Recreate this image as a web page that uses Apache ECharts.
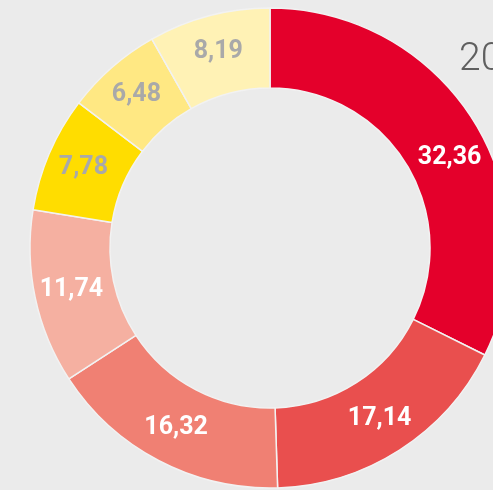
<!DOCTYPE html>
<html lang="en">
<head>
    <meta charset="UTF-8">
    <title>Donut</title>
    <style>
        html, body {
            margin: 0;
            padding: 0;
            background: #ebebeb;
        }
        #chart {
            width: 493px;
            height: 490px;
        }
    </style>
</head>
<body>
<div id="chart"></div>
<script src="https://cdn.jsdelivr.net/npm/echarts@6/dist/echarts.min.js"></script>
<script>
    // values, clockwise from 12 o'clock
    let labels = ['32,36', '17,14', '16,32', '11,74', '7,78', '6,48', '8,19'];
    let values = [32.36, 17.14, 16.32, 11.74, 7.78, 6.48, 8.19];
    let colors = ['#e4002b', '#e94f4e', '#f08073', '#f5b0a1', '#ffdd00', '#ffe883', '#fff2b5'];
    let labelColors = ['#ffffff', '#ffffff', '#ffffff', '#ffffff', '#a9a9a9', '#a9a9a9', '#a9a9a9'];
    let yearText = '2015';

    let chart = echarts.init(document.getElementById('chart'));
    let data = values.map(function (v, i) {
        let item = {
            name: labels[i],
            value: v,
            itemStyle: {color: colors[i]},
            label: {color: labelColors[i]}
        };
        if (i === 0) {
            item.label.offset = [7, 17];
        }
        return item;
    });
    let option = {
        backgroundColor: '#ebebeb',
        animation: false,
        graphic: [{
            type: 'text',
            left: 459,
            top: 41,
            style: {
                text: yearText,
                fill: '#5f5f5f',
                font: '300 39px Roboto, sans-serif'
            }
        }],
        series: [{
            type: 'pie',
            center: [270, 248],
            radius: [160, 240],
            startAngle: 90,
            clockwise: true,
            avoidLabelOverlap: false,
            itemStyle: {
                borderColor: '#f2f2f2',
                borderWidth: 1.5
            },
            label: {
                show: true,
                position: 'inside',
                formatter: '{b}',
                fontFamily: 'Roboto, sans-serif',
                fontWeight: 'bold',
                fontSize: 25
            },
            labelLine: {show: false},
            emphasis: {disabled: true},
            data: data
        }]
    };
    chart.setOption(option);
</script>
</body>
</html>
